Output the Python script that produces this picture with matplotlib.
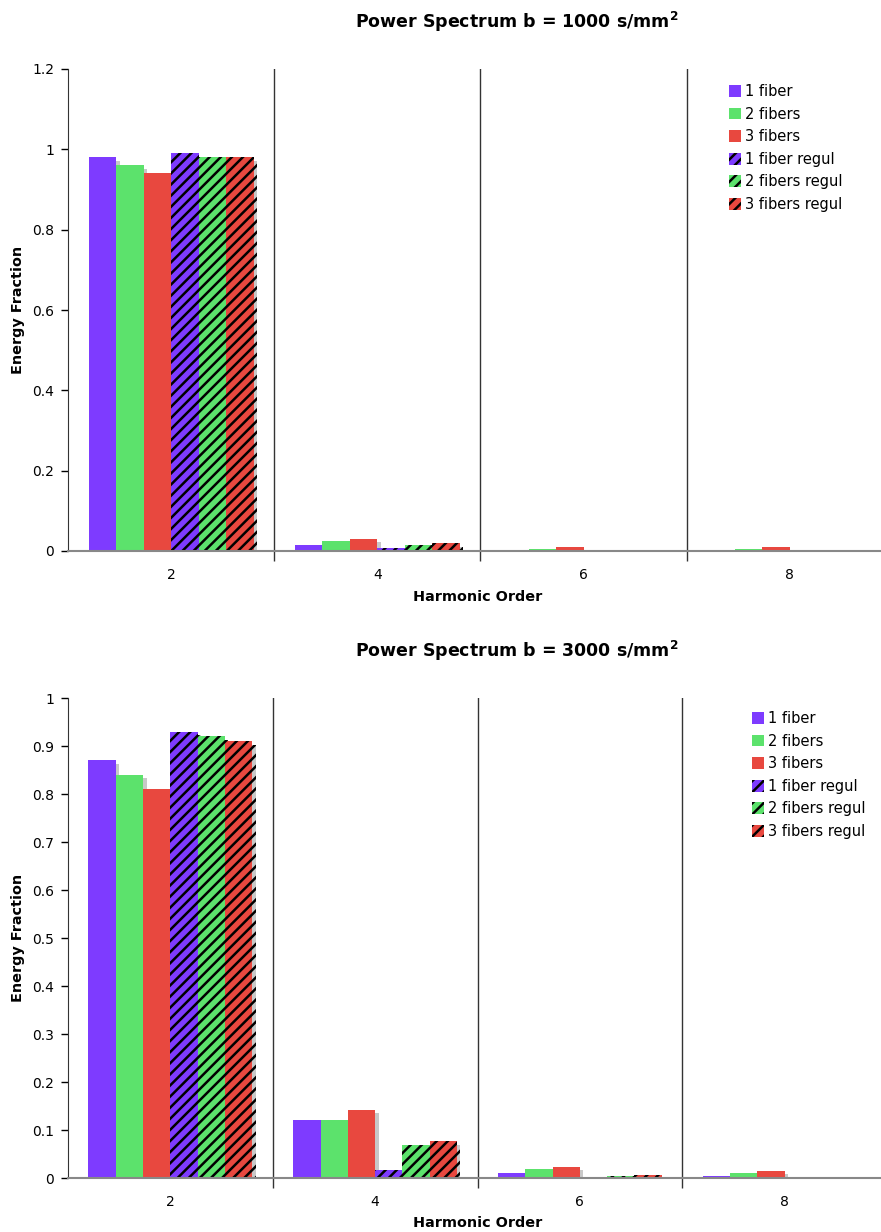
import matplotlib
matplotlib.use("Agg")
import matplotlib.pyplot as plt
import matplotlib.patheffects as pe
from matplotlib.patches import Patch
import numpy as np

plt.rcParams['font.family'] = ['DejaVu Sans']
plt.rcParams['hatch.linewidth'] = 1.8

orders = ["2", "4", "6", "8"]
series = ["1 fiber", "2 fibers", "3 fibers", "1 fiber regul", "2 fibers regul", "3 fibers regul"]
colors = ["#7E3BFF", "#5CE26C", "#E8483F", "#7E3BFF", "#5CE26C", "#E8483F"]
hatches = [None, None, None, "///", "///", "///"]

# b = 1000 s/mm^2
b1000_1fiber = [0.98, 0.014, 0.001, 0.001]
b1000_2fibers = [0.96, 0.025, 0.004, 0.004]
b1000_3fibers = [0.94, 0.031, 0.009, 0.009]
b1000_1fiber_regul = [0.99, 0.008, 0.0005, 0.0]
b1000_2fibers_regul = [0.98, 0.016, 0.002, 0.0]
b1000_3fibers_regul = [0.98, 0.019, 0.002, 0.0]

# b = 3000 s/mm^2
b3000_1fiber = [0.87, 0.12, 0.010, 0.004]
b3000_2fibers = [0.84, 0.12, 0.018, 0.010]
b3000_3fibers = [0.81, 0.142, 0.023, 0.015]
b3000_1fiber_regul = [0.93, 0.017, 0.002, 0.002]
b3000_2fibers_regul = [0.92, 0.069, 0.004, 0.0005]
b3000_3fibers_regul = [0.91, 0.077, 0.006, 0.002]

W, H = 881, 1232
fig = plt.figure(figsize=(W / 100, H / 100), dpi=100)


def draw(ax_rect, data, ymax, ystep, title, title_xy, xlabel_y, legend_xy):
    ax = fig.add_axes(ax_rect)
    x = np.arange(len(orders))
    bw = 0.8 / len(series)
    handles = []
    for i, (vals, lab, c, h) in enumerate(zip(data, series, colors, hatches)):
        pos = x - 0.4 + bw * (i + 0.5)
        ec = "black" if h else c
        bars = ax.bar(pos, vals, width=bw, color=c, hatch=h,
                      edgecolor=ec, linewidth=0, zorder=3)
        for b in bars:
            b.set_path_effects([pe.SimplePatchShadow(offset=(2.5, -2.5),
                                                     shadow_rgbFace="#c8c8c8",
                                                     alpha=1.0),
                                pe.Normal()])
        handles.append(Patch(facecolor=c, edgecolor=ec, hatch=h, linewidth=0, label=lab))
    ax.set_xlim(-0.5, len(orders) - 0.5)
    ax.set_ylim(0, ymax)
    yt = np.round(np.arange(0, ymax + 1e-9, ystep), 2)
    ax.set_yticks(yt)
    ax.set_yticklabels([f"{v:g}" for v in yt])
    ax.set_xticks(x)
    ax.set_xticklabels(orders)
    ax.set_xticks(np.arange(0.5, len(orders) - 0.5, 1.0), minor=True)
    ax.tick_params(axis="x", which="major", length=0, pad=12, labelsize=10)
    ax.tick_params(axis="x", which="minor", length=7, width=1, color="#333333")
    ax.tick_params(axis="y", length=5, width=1, labelsize=10, pad=5)
    ax.grid(True, axis="x", which="minor", color="#333333", linewidth=1, zorder=1)
    ax.grid(False, axis="x", which="major")
    for s in ["top", "right"]:
        ax.spines[s].set_visible(False)
    ax.spines["left"].set_color("#333333")
    ax.spines["bottom"].set_color("#888888")
    ax.spines["bottom"].set_linewidth(1.5)
    ax.spines["bottom"].set_zorder(4)
    fig.text(478 / W, 1 - xlabel_y / H, "Harmonic Order", ha="center", va="center",
             fontsize=10.4, fontweight="bold")
    fig.text(title_xy[0] / W, 1 - title_xy[1] / H, title, ha="center", va="center",
             fontsize=12.5, fontweight="bold")
    ycenter = ax_rect[1] + ax_rect[3] / 2
    fig.text(18 / W, ycenter, "Energy Fraction", rotation=90, ha="center", va="center",
             fontsize=10.4, fontweight="bold")
    ax.legend(handles=handles, loc="upper left",
              bbox_to_anchor=(legend_xy[0] / W, 1 - legend_xy[1] / H),
              bbox_transform=fig.transFigure, frameon=False, fontsize=10.5,
              handlelength=0.85, handleheight=0.85, handletextpad=0.25,
              labelspacing=0.52, borderaxespad=0, borderpad=0)
    return ax


data1 = [b1000_1fiber, b1000_2fibers, b1000_3fibers,
         b1000_1fiber_regul, b1000_2fibers_regul, b1000_3fibers_regul]
data3 = [b3000_1fiber, b3000_2fibers, b3000_3fibers,
         b3000_1fiber_regul, b3000_2fibers_regul, b3000_3fibers_regul]

draw([68 / W, 1 - 551 / H, 825 / W, 482 / H], data1, 1.2, 0.2,
     r"Power Spectrum b = 1000 s/mm$^\mathbf{2}$", (517, 22), 597, (729, 84))
draw([68 / W, 1 - 1178 / H, 819 / W, 480 / H], data3, 1.0, 0.1,
     r"Power Spectrum b = 3000 s/mm$^\mathbf{2}$", (517, 651), 1223, (752, 711))

fig.savefig("out.png", dpi=100)
